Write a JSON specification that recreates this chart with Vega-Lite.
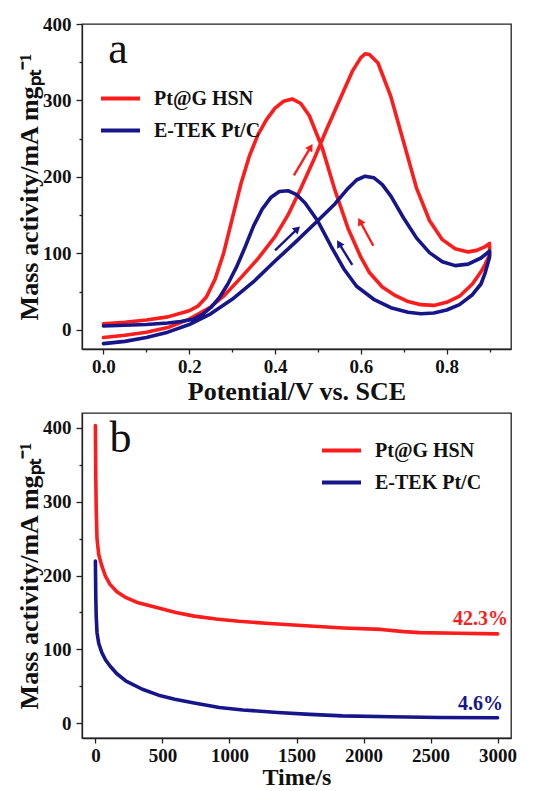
{
  "$schema": "https://vega.github.io/schema/vega-lite/v6.json",
  "background": "white",
  "padding": {"left": 15, "top": 14, "right": 0, "bottom": 0},
  "config": {
    "font": "Liberation Serif",
    "view": {"stroke": "#222", "strokeWidth": 1.3},
    "axis": {
      "labelFont": "Liberation Serif", "labelFontWeight": "bold", "labelFontSize": 19, "labelColor": "#111",
      "titleFont": "Liberation Serif", "titleFontWeight": "bold", "titleFontSize": 26, "titleColor": "#111",
      "grid": false, "domainColor": "#222", "domainWidth": 1.3, "tickColor": "#222", "tickWidth": 1.3
    },
    "legend": {
      "orient": "none", "title": null, "symbolType": "stroke", "symbolSize": 1521, "symbolStrokeWidth": 4,
      "labelFont": "Liberation Serif", "labelFontWeight": "bold", "labelFontSize": 20, "labelColor": "#111",
      "labelOffset": 12, "rowPadding": -7, "padding": 0
    },
    "concat": {"spacing": 7}
  },
  "datasets": {
    "cv": [
      {"s":"Pt@G HSN","i":0,"v":0.00,"j":-10},{"s":"Pt@G HSN","i":1,"v":0.05,"j":-7},{"s":"Pt@G HSN","i":2,"v":0.10,"j":-3},{"s":"Pt@G HSN","i":3,"v":0.15,"j":3},{"s":"Pt@G HSN","i":4,"v":0.20,"j":14},{"s":"Pt@G HSN","i":5,"v":0.25,"j":30},{"s":"Pt@G HSN","i":6,"v":0.28,"j":44},{"s":"Pt@G HSN","i":7,"v":0.32,"j":68},{"s":"Pt@G HSN","i":8,"v":0.36,"j":93},{"s":"Pt@G HSN","i":9,"v":0.40,"j":122},{"s":"Pt@G HSN","i":10,"v":0.43,"j":150},{"s":"Pt@G HSN","i":11,"v":0.46,"j":185},{"s":"Pt@G HSN","i":12,"v":0.49,"j":222},{"s":"Pt@G HSN","i":13,"v":0.52,"j":262},{"s":"Pt@G HSN","i":14,"v":0.55,"j":300},{"s":"Pt@G HSN","i":15,"v":0.58,"j":338},{"s":"Pt@G HSN","i":16,"v":0.60,"j":356},{"s":"Pt@G HSN","i":17,"v":0.61,"j":361},{"s":"Pt@G HSN","i":18,"v":0.62,"j":360},{"s":"Pt@G HSN","i":19,"v":0.64,"j":349},{"s":"Pt@G HSN","i":20,"v":0.67,"j":305},{"s":"Pt@G HSN","i":21,"v":0.70,"j":245},{"s":"Pt@G HSN","i":22,"v":0.73,"j":185},{"s":"Pt@G HSN","i":23,"v":0.76,"j":143},{"s":"Pt@G HSN","i":24,"v":0.79,"j":118},{"s":"Pt@G HSN","i":25,"v":0.82,"j":106},{"s":"Pt@G HSN","i":26,"v":0.85,"j":102},{"s":"Pt@G HSN","i":27,"v":0.87,"j":104},{"s":"Pt@G HSN","i":28,"v":0.89,"j":109},{"s":"Pt@G HSN","i":29,"v":0.90,"j":113},
      {"s":"Pt@G HSN","i":30,"v":0.90,"j":98},{"s":"Pt@G HSN","i":31,"v":0.89,"j":86},{"s":"Pt@G HSN","i":32,"v":0.88,"j":76},{"s":"Pt@G HSN","i":33,"v":0.86,"j":60},{"s":"Pt@G HSN","i":34,"v":0.83,"j":44},{"s":"Pt@G HSN","i":35,"v":0.80,"j":36},{"s":"Pt@G HSN","i":36,"v":0.77,"j":32},{"s":"Pt@G HSN","i":37,"v":0.74,"j":33},{"s":"Pt@G HSN","i":38,"v":0.71,"j":37},{"s":"Pt@G HSN","i":39,"v":0.68,"j":45},{"s":"Pt@G HSN","i":40,"v":0.65,"j":56},{"s":"Pt@G HSN","i":41,"v":0.62,"j":75},{"s":"Pt@G HSN","i":42,"v":0.60,"j":95},{"s":"Pt@G HSN","i":43,"v":0.57,"j":133},{"s":"Pt@G HSN","i":44,"v":0.54,"j":182},{"s":"Pt@G HSN","i":45,"v":0.51,"j":238},{"s":"Pt@G HSN","i":46,"v":0.48,"j":280},{"s":"Pt@G HSN","i":47,"v":0.46,"j":296},{"s":"Pt@G HSN","i":48,"v":0.44,"j":302},{"s":"Pt@G HSN","i":49,"v":0.42,"j":299},{"s":"Pt@G HSN","i":50,"v":0.40,"j":290},{"s":"Pt@G HSN","i":51,"v":0.38,"j":275},{"s":"Pt@G HSN","i":52,"v":0.36,"j":255},{"s":"Pt@G HSN","i":53,"v":0.34,"j":227},{"s":"Pt@G HSN","i":54,"v":0.32,"j":190},{"s":"Pt@G HSN","i":55,"v":0.30,"j":145},{"s":"Pt@G HSN","i":56,"v":0.28,"j":100},{"s":"Pt@G HSN","i":57,"v":0.26,"j":66},{"s":"Pt@G HSN","i":58,"v":0.24,"j":43},{"s":"Pt@G HSN","i":59,"v":0.22,"j":31},{"s":"Pt@G HSN","i":60,"v":0.20,"j":25},{"s":"Pt@G HSN","i":61,"v":0.15,"j":17},{"s":"Pt@G HSN","i":62,"v":0.10,"j":13},{"s":"Pt@G HSN","i":63,"v":0.05,"j":10},{"s":"Pt@G HSN","i":64,"v":0.00,"j":8},
      {"s":"E-TEK Pt/C","i":0,"v":0.00,"j":-18},{"s":"E-TEK Pt/C","i":1,"v":0.05,"j":-15},{"s":"E-TEK Pt/C","i":2,"v":0.10,"j":-10},{"s":"E-TEK Pt/C","i":3,"v":0.15,"j":-3},{"s":"E-TEK Pt/C","i":4,"v":0.20,"j":7},{"s":"E-TEK Pt/C","i":5,"v":0.25,"j":21},{"s":"E-TEK Pt/C","i":6,"v":0.30,"j":40},{"s":"E-TEK Pt/C","i":7,"v":0.35,"j":63},{"s":"E-TEK Pt/C","i":8,"v":0.40,"j":90},{"s":"E-TEK Pt/C","i":9,"v":0.45,"j":116},{"s":"E-TEK Pt/C","i":10,"v":0.50,"j":143},{"s":"E-TEK Pt/C","i":11,"v":0.54,"j":165},{"s":"E-TEK Pt/C","i":12,"v":0.57,"j":185},{"s":"E-TEK Pt/C","i":13,"v":0.59,"j":196},{"s":"E-TEK Pt/C","i":14,"v":0.61,"j":201},{"s":"E-TEK Pt/C","i":15,"v":0.63,"j":199},{"s":"E-TEK Pt/C","i":16,"v":0.65,"j":190},{"s":"E-TEK Pt/C","i":17,"v":0.67,"j":175},{"s":"E-TEK Pt/C","i":18,"v":0.70,"j":146},{"s":"E-TEK Pt/C","i":19,"v":0.73,"j":120},{"s":"E-TEK Pt/C","i":20,"v":0.76,"j":101},{"s":"E-TEK Pt/C","i":21,"v":0.79,"j":89},{"s":"E-TEK Pt/C","i":22,"v":0.82,"j":84},{"s":"E-TEK Pt/C","i":23,"v":0.85,"j":86},{"s":"E-TEK Pt/C","i":24,"v":0.88,"j":94},{"s":"E-TEK Pt/C","i":25,"v":0.90,"j":103},
      {"s":"E-TEK Pt/C","i":26,"v":0.90,"j":95},{"s":"E-TEK Pt/C","i":27,"v":0.89,"j":75},{"s":"E-TEK Pt/C","i":28,"v":0.88,"j":60},{"s":"E-TEK Pt/C","i":29,"v":0.86,"j":46},{"s":"E-TEK Pt/C","i":30,"v":0.83,"j":33},{"s":"E-TEK Pt/C","i":31,"v":0.80,"j":26},{"s":"E-TEK Pt/C","i":32,"v":0.77,"j":22},{"s":"E-TEK Pt/C","i":33,"v":0.74,"j":21},{"s":"E-TEK Pt/C","i":34,"v":0.71,"j":23},{"s":"E-TEK Pt/C","i":35,"v":0.67,"j":29},{"s":"E-TEK Pt/C","i":36,"v":0.63,"j":40},{"s":"E-TEK Pt/C","i":37,"v":0.59,"j":57},{"s":"E-TEK Pt/C","i":38,"v":0.56,"j":80},{"s":"E-TEK Pt/C","i":39,"v":0.53,"j":110},{"s":"E-TEK Pt/C","i":40,"v":0.50,"j":142},{"s":"E-TEK Pt/C","i":41,"v":0.47,"j":166},{"s":"E-TEK Pt/C","i":42,"v":0.45,"j":177},{"s":"E-TEK Pt/C","i":43,"v":0.43,"j":182},{"s":"E-TEK Pt/C","i":44,"v":0.41,"j":181},{"s":"E-TEK Pt/C","i":45,"v":0.39,"j":173},{"s":"E-TEK Pt/C","i":46,"v":0.37,"j":158},{"s":"E-TEK Pt/C","i":47,"v":0.35,"j":136},{"s":"E-TEK Pt/C","i":48,"v":0.33,"j":108},{"s":"E-TEK Pt/C","i":49,"v":0.31,"j":82},{"s":"E-TEK Pt/C","i":50,"v":0.29,"j":60},{"s":"E-TEK Pt/C","i":51,"v":0.27,"j":42},{"s":"E-TEK Pt/C","i":52,"v":0.25,"j":29},{"s":"E-TEK Pt/C","i":53,"v":0.23,"j":20},{"s":"E-TEK Pt/C","i":54,"v":0.21,"j":14},{"s":"E-TEK Pt/C","i":55,"v":0.18,"j":11},{"s":"E-TEK Pt/C","i":56,"v":0.15,"j":9},{"s":"E-TEK Pt/C","i":57,"v":0.10,"j":7},{"s":"E-TEK Pt/C","i":58,"v":0.05,"j":6},{"s":"E-TEK Pt/C","i":59,"v":0.00,"j":5}
    ],
    "arrows": [
      {"s":"Pt@G HSN","v0":0.444,"j0":202,"v":0.483,"j":239,"dir":31},
      {"s":"Pt@G HSN","v0":0.629,"j0":110,"v":0.598,"j":142,"dir":332},
      {"s":"E-TEK Pt/C","v0":0.40,"j0":104,"v":0.452,"j":132,"dir":47},
      {"s":"E-TEK Pt/C","v0":0.58,"j0":85,"v":0.549,"j":113,"dir":329}
    ],
    "ca": [
      {"s":"Pt@G HSN","t":0,"m":403},{"s":"Pt@G HSN","t":3,"m":330},{"s":"Pt@G HSN","t":6,"m":290},{"s":"Pt@G HSN","t":12,"m":250},{"s":"Pt@G HSN","t":25,"m":228},{"s":"Pt@G HSN","t":48,"m":213},{"s":"Pt@G HSN","t":75,"m":199},{"s":"Pt@G HSN","t":109,"m":188},{"s":"Pt@G HSN","t":160,"m":178},{"s":"Pt@G HSN","t":229,"m":170},{"s":"Pt@G HSN","t":320,"m":163},{"s":"Pt@G HSN","t":471,"m":156},{"s":"Pt@G HSN","t":600,"m":150},{"s":"Pt@G HSN","t":737,"m":145},{"s":"Pt@G HSN","t":900,"m":141},{"s":"Pt@G HSN","t":1069,"m":138},{"s":"Pt@G HSN","t":1300,"m":135},{"s":"Pt@G HSN","t":1600,"m":131.6},{"s":"Pt@G HSN","t":1850,"m":129},{"s":"Pt@G HSN","t":2132,"m":127},{"s":"Pt@G HSN","t":2300,"m":124},{"s":"Pt@G HSN","t":2421,"m":122.6},{"s":"Pt@G HSN","t":2700,"m":121.8},{"s":"Pt@G HSN","t":3000,"m":121},
      {"s":"E-TEK Pt/C","t":0,"m":219.5},{"s":"E-TEK Pt/C","t":3,"m":170},{"s":"E-TEK Pt/C","t":6,"m":145},{"s":"E-TEK Pt/C","t":12,"m":122.6},{"s":"E-TEK Pt/C","t":25,"m":108},{"s":"E-TEK Pt/C","t":48,"m":95.6},{"s":"E-TEK Pt/C","t":75,"m":86},{"s":"E-TEK Pt/C","t":109,"m":77.5},{"s":"E-TEK Pt/C","t":160,"m":67},{"s":"E-TEK Pt/C","t":229,"m":57},{"s":"E-TEK Pt/C","t":350,"m":46},{"s":"E-TEK Pt/C","t":471,"m":38},{"s":"E-TEK Pt/C","t":592,"m":32.5},{"s":"E-TEK Pt/C","t":737,"m":27.5},{"s":"E-TEK Pt/C","t":924,"m":21.2},{"s":"E-TEK Pt/C","t":1100,"m":18},{"s":"E-TEK Pt/C","t":1359,"m":14.5},{"s":"E-TEK Pt/C","t":1600,"m":12},{"s":"E-TEK Pt/C","t":1842,"m":9.9},{"s":"E-TEK Pt/C","t":2200,"m":8.7},{"s":"E-TEK Pt/C","t":2567,"m":7.7},{"s":"E-TEK Pt/C","t":3000,"m":7.5}
    ],
    "pct": [
      {"s":"Pt@G HSN","lab":"42.3%","t":3078,"m":141},
      {"s":"E-TEK Pt/C","lab":"4.6%","t":3040,"m":26}
    ],
    "tagA": [{"lab":"a","v":0.011,"j":349}],
    "tagB": [{"lab":"b","t":106,"m":367}]
  },
  "resolve": {"scale": {"color": "independent"}},
  "vconcat": [
    {
      "width": 429, "height": 325,
      "layer": [
        {
          "data": {"name": "cv"},
          "mark": {"type": "line", "strokeWidth": 3.6, "strokeJoin": "round", "strokeCap": "round"},
          "encoding": {
            "x": {"field": "v", "type": "quantitative", "title": "Potential/V vs. SCE",
                  "scale": {"domain": [-0.05, 0.95], "nice": false, "zero": false},
                  "axis": {"values": [0,0.1,0.2,0.3,0.4,0.5,0.6,0.7,0.8,0.9], "format": ".1f",
                           "labelExpr": "round(datum.value*10) % 2 == 0 ? datum.label : ''",
                           "tickSize": {"condition": {"test": "round(datum.value*10) % 2 == 0", "value": 5}, "value": 3},
                           "labelPadding": 3, "titlePadding": 2}},
            "y": {"field": "j", "type": "quantitative", "title": "Mass activity/mA mg\u209a\u209c\u207b\u00b9",
                  "scale": {"domain": [-25, 400], "nice": false, "zero": false},
                  "axis": {"values": [0,50,100,150,200,250,300,350,400],
                           "labelExpr": "datum.value % 100 == 0 ? datum.label : ''",
                           "tickSize": {"condition": {"test": "datum.value % 100 == 0", "value": 6}, "value": 3},
                           "labelPadding": 5, "titlePadding": 0}},
            "color": {"field": "s", "type": "nominal",
                      "scale": {"domain": ["Pt@G HSN", "E-TEK Pt/C"], "range": ["#fd1c1c", "#16168a"]},
                      "legend": {"legendX": 17, "legendY": 53}},
            "order": {"field": "i", "type": "quantitative"}
          }
        },
        {
          "data": {"name": "arrows"},
          "mark": {"type": "rule", "strokeWidth": 2.4},
          "encoding": {
            "x": {"field": "v0", "type": "quantitative", "title": "Potential/V vs. SCE"},
            "y": {"field": "j0", "type": "quantitative", "title": "Mass activity/mA mg\u209a\u209c\u207b\u00b9"},
            "x2": {"field": "v"}, "y2": {"field": "j"},
            "color": {"field": "s", "type": "nominal", "legend": null}
          }
        },
        {
          "data": {"name": "arrows"},
          "mark": {"type": "point", "shape": "triangle-up", "filled": true, "opacity": 1, "size": 70},
          "encoding": {
            "x": {"field": "v", "type": "quantitative", "title": "Potential/V vs. SCE"},
            "y": {"field": "j", "type": "quantitative", "title": "Mass activity/mA mg\u209a\u209c\u207b\u00b9"},
            "angle": {"field": "dir", "type": "quantitative", "scale": null},
            "color": {"field": "s", "type": "nominal", "legend": null}
          }
        },
        {
          "data": {"name": "tagA"},
          "mark": {"type": "text", "align": "left", "baseline": "alphabetic", "fontSize": 44, "font": "Liberation Serif", "color": "#111"},
          "encoding": {
            "x": {"field": "v", "type": "quantitative", "title": "Potential/V vs. SCE"},
            "y": {"field": "j", "type": "quantitative", "title": "Mass activity/mA mg\u209a\u209c\u207b\u00b9"},
            "text": {"field": "lab"}
          }
        }
      ]
    },
    {
      "width": 429, "height": 325,
      "layer": [
        {
          "data": {"name": "ca"},
          "mark": {"type": "line", "strokeWidth": 3.6, "strokeJoin": "round", "strokeCap": "round"},
          "encoding": {
            "x": {"field": "t", "type": "quantitative", "title": "Time/s",
                  "scale": {"domain": [-100, 3100], "nice": false, "zero": false},
                  "axis": {"values": [0,250,500,750,1000,1250,1500,1750,2000,2250,2500,2750,3000], "format": "d",
                           "labelExpr": "datum.value % 500 == 0 ? datum.label : ''",
                           "tickSize": {"condition": {"test": "datum.value % 500 == 0", "value": 5}, "value": 3},
                           "labelPadding": 3, "titlePadding": 0, "titleFontSize": 24}},
            "y": {"field": "m", "type": "quantitative", "title": "Mass activity/mA mg\u209a\u209c\u207b\u00b9",
                  "scale": {"domain": [-20, 420], "nice": false, "zero": false},
                  "axis": {"values": [0,50,100,150,200,250,300,350,400],
                           "labelExpr": "datum.value % 100 == 0 ? datum.label : ''",
                           "tickSize": {"condition": {"test": "datum.value % 100 == 0", "value": 6}, "value": 3},
                           "labelPadding": 5, "titlePadding": 0}},
            "color": {"field": "s", "type": "nominal",
                      "scale": {"domain": ["Pt@G HSN", "E-TEK Pt/C"], "range": ["#fd1c1c", "#16168a"]},
                      "legend": {"legendX": 238, "legendY": 16}},
            "order": {"field": "t", "type": "quantitative"}
          }
        },
        {
          "data": {"name": "pct"},
          "mark": {"type": "text", "align": "right", "baseline": "middle", "fontSize": 20, "fontWeight": "bold", "font": "Liberation Serif"},
          "encoding": {
            "x": {"field": "t", "type": "quantitative", "title": "Time/s"},
            "y": {"field": "m", "type": "quantitative", "title": "Mass activity/mA mg\u209a\u209c\u207b\u00b9"},
            "text": {"field": "lab"},
            "color": {"field": "s", "type": "nominal", "legend": null}
          }
        },
        {
          "data": {"name": "tagB"},
          "mark": {"type": "text", "align": "left", "baseline": "alphabetic", "fontSize": 44, "font": "Liberation Serif", "color": "#111"},
          "encoding": {
            "x": {"field": "t", "type": "quantitative", "title": "Time/s"},
            "y": {"field": "m", "type": "quantitative", "title": "Mass activity/mA mg\u209a\u209c\u207b\u00b9"},
            "text": {"field": "lab"}
          }
        }
      ]
    }
  ]
}
